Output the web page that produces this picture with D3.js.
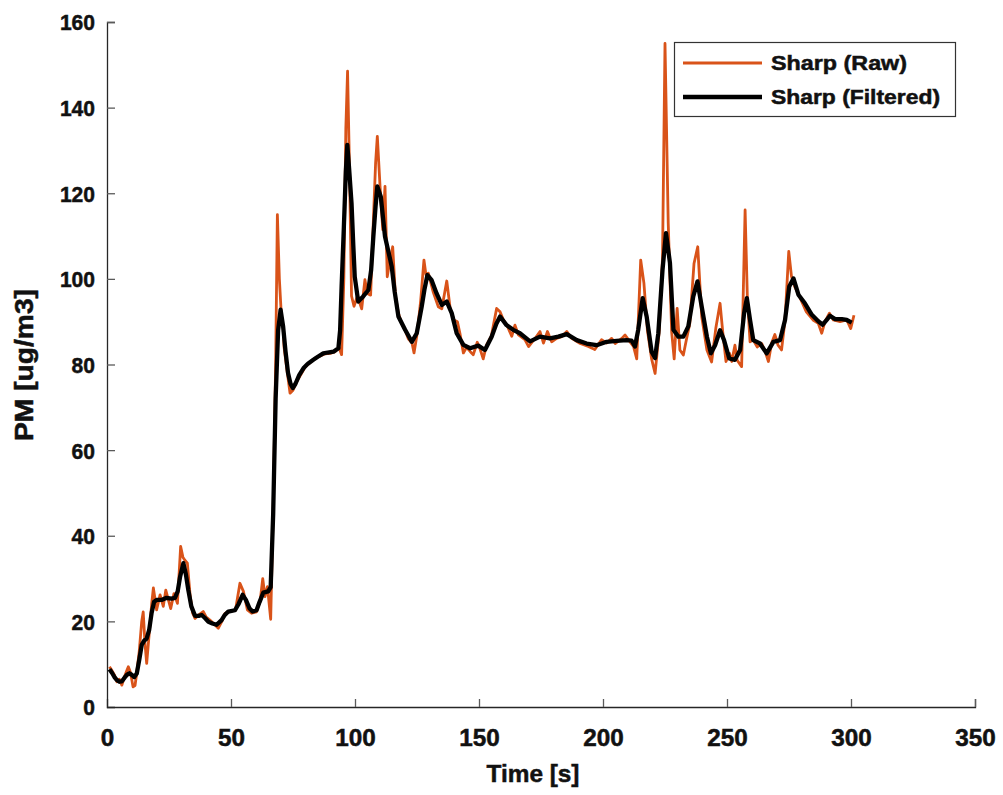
<!DOCTYPE html>
<html>
<head>
<meta charset="utf-8">
<script src="https://cdn.jsdelivr.net/npm/d3@7"></script>
<style>
  html, body { margin: 0; padding: 0; background: #fff; }
  svg { display: block; }
  text { font-family: "Liberation Sans", Arial, sans-serif; font-weight: bold; fill: #111; stroke: #111; stroke-width: 0.5px; }
</style>
</head>
<body>
<svg id="chart" width="1003" height="795"></svg>
<script>
// ---- data ----
const rawTime = [1,2,3,4,5,6,7,8,8.6,9.5,10.5,11.3,12,13,14,14.6,15.3,16,17,18,18.7,20,21.4,22.7,23.7,25.7,27,28.4,29.7,30.6,31.4,32.4,33.5,34.5,35.5,37,38.8,40,41.5,43,44.9,46.3,47.6,50,51.8,53.6,55,56.6,58.3,60.3,61.8,62.8,63.7,64.7,66,67,68,68.7,69.5,70.4,71,71.4,72.5,73.8,75,76.5,78,80,82,84,86,88,90,92,93.5,94.6,95.5,96.3,97,97.8,98.6,99.6,101,102.7,104,105,106.3,107.5,108.3,109,110.1,111.2,112.1,113,114,115.2,116.3,117.5,118.8,120.2,121.5,123,123.8,125,126.5,127.8,128.6,129.6,131.5,133.6,135,137,138.4,139.9,141.3,142.3,143.7,145,146.5,147.7,149.3,150.5,151.7,153,155,157.1,158.4,159.7,161.8,163.2,164.5,165.8,168.5,170,172.7,174.6,176,177.6,179.3,181.3,183.3,185.4,187.4,190.8,194.1,196.7,199.4,201.5,203.5,204.9,207.6,208.9,210.9,212.3,213.6,215.2,216.5,217.9,219.6,221,222.7,224,225,226.3,227.7,228.7,229.9,231,232.4,233.7,235,236.7,238.2,239.8,241.9,243.8,245.5,247.2,248.3,249.6,251,251.9,253.2,254.1,255.9,257.3,258.2,259.3,260.6,262.2,264,265.4,266.7,268,269.3,270.6,272,273.4,274.9,276,277.3,279.3,282,284.7,286.8,288.2,289.5,291.3,292.9,295.6,298.3,299.9,301.2];
const rawValue = [9.4,8.5,7.5,5.9,6.5,5.1,7,8.5,9.4,8,4.7,5,8,13,20,22.2,15,10.2,17,24,27.8,22.7,26.2,23.5,27.3,23,26.5,24.2,37.5,35,34.3,33.6,26.2,22,20.7,21.5,22.3,21,20.3,19.5,18.4,20,21.9,22.4,22.6,28.9,27,22.7,21.9,22.2,25,30,25.8,28.1,20.5,46,80,115,100,90.5,89,84,79,73.3,74,76,77.5,79.5,80.5,81.5,82,82.5,82.6,83,84,82.3,100,135,148.5,125,96,93.6,96,93,99.8,96.6,96.2,115,127,133.3,121.6,111.5,121.6,100.5,104,107.5,96,92,89.6,88,86,85,82.7,87,95,104.4,101,101.3,97,93.5,93,99.5,93,90.4,90,87.3,82.7,84,83,82.3,85.2,83.5,81.3,84.5,86.7,93.1,92.4,90.6,88.5,86.6,89.2,87,85.8,84.2,86.2,87.7,85,87.7,85.3,86.1,86.5,87.7,86.1,84.9,84.2,83.5,85.8,85,86.1,84.9,86.1,86.9,85.3,84.2,81.3,104.4,99,88,81.3,77.9,88,105,155,113,87.5,81.3,93.1,83.4,82.2,86,89.6,103.6,107.5,91.2,83.4,80.6,88.5,94.3,87.5,80.7,82.6,80.7,84.5,81,79.5,116.1,95.8,85.3,85.7,84.1,84.9,83,80.7,85,87,84.5,83.4,90.4,106.4,100.6,98.2,95.8,92.3,90.4,89.6,87.3,90,92,90.4,90,90.4,88.4,91.5];

const filtTime = [1,2,3,4,5,6,7,8,9,10,11,12,13,14,15,16,17,18,19,20,22,24,26,27.4,28.5,29.5,30.8,31.8,32.8,34,35.5,37,38.2,39.5,40.9,42.5,44.2,46.2,47.5,48.9,51.6,53,54.7,56,57.5,58.7,60.3,61.5,63,65,66,67,68,69,70,71,72,73,74,74.9,76,77.5,79.2,81,83.2,85,87.2,89,91.3,93.3,94,94.6,95.5,96.3,96.9,97.6,98.6,99.3,99.9,101.3,103.3,105.4,106.5,107.4,108.3,109,110.4,112.1,114.8,116,117.5,120.2,122.9,124.9,126.9,128,129.2,130.9,132.9,135,137,139,141,143.7,146.4,149.7,152.4,155.1,157,158.5,161.1,163.8,166.5,170.6,174.6,178.6,182,185.4,189.4,193.4,197.4,201.5,205.5,209.5,211.5,212.9,214.2,216,217.6,219.6,221,222.3,224,225.4,227,228.4,230.4,232.4,234.4,236.4,238.1,239.8,241.9,243.5,245.2,247.2,248.8,250.9,253.2,255.3,256.9,258,259.3,260.6,263.3,266,268.7,271.4,273.4,275.1,276.8,278.8,281.4,284.2,286.8,288.6,290.2,291.5,293.6,296.3,298.3,300.3];
const filtValue = [8.8,8,7,6.3,5.9,6,6.8,7.5,7.9,7.5,7,7.8,11,14.5,15.5,16,18,22,24.6,25,25,25.5,25.3,25.5,27,30.5,33.6,31,27.3,23.5,21.3,21.3,21.5,20.8,19.9,19.5,19.2,20.3,21.5,22.3,22.6,24,26.2,25,23,22.3,22.6,24.5,26.7,27,28,45,72,88,92.8,89,83,78,75.5,74.5,75.5,77.5,79.1,80.2,81.1,81.8,82.6,82.8,83,83.8,88,98.2,112,125,131.3,126,117.7,108,100.5,94.7,95.9,97.4,102,109.9,117,121.6,119.2,109.9,102.9,97,91.2,88.1,85.3,87.3,93.5,97.5,100.9,99.7,96.6,93.9,94.7,92,87.3,84.6,83.8,84.4,83.4,86.5,89.5,91.2,89.2,88.1,87.3,85.4,86.5,86.1,86.5,87.1,85.7,84.9,84.5,85.3,85.5,85.7,85.6,84.2,88.1,95.5,91.2,83,81.5,87.3,102.1,110.7,103.7,88.1,86.5,86.5,88.9,95.9,99.4,93.5,86.5,82.6,84.5,88,85.7,81.4,81.1,83.4,92,95.5,90.4,85.7,84.9,82.6,85.3,85.7,90.4,98.2,100.1,96.3,94.3,91.6,90.1,89.3,90.4,91.4,90.6,90.6,90.4,89.8];

const xTicks = [0,50,100,150,200,250,300,350];
const yTicks = [0,20,40,60,80,100,120,140,160];
const seriesNames = ["Sharp (Raw)", "Sharp (Filtered)"];
const seriesColors = ["#D95319", "#000000"];

// ---- layout ----
const svg = d3.select("#chart");
const x = d3.scaleLinear().domain([0, 350]).range([107, 975]);
const y = d3.scaleLinear().domain([0, 160]).range([707, 22]);

const xAxis = d3.axisBottom(x).tickValues(xTicks).tickSize(-8).tickPadding(0).tickFormat(d3.format("d"));
const yAxis = d3.axisLeft(y).tickValues(yTicks).tickSize(-8).tickPadding(0).tickFormat(d3.format("d"));

const gx = svg.append("g").attr("transform", "translate(0,707)").call(xAxis);
const gy = svg.append("g").attr("transform", "translate(107,0)").call(yAxis);

[gx, gy].forEach(g => {
  g.select(".domain").attr("stroke", "#262626").attr("stroke-width", 1.3);
  g.selectAll(".tick line").attr("stroke", "#5a5a5a").attr("stroke-width", 1.3);
  g.selectAll(".tick text").attr("fill", "#111").attr("stroke", "#111").attr("stroke-width", 0.5)
    .style("font-family", "'Liberation Sans', Arial, sans-serif").style("font-weight", "bold");
});
gx.selectAll(".tick text").attr("font-size", 24).attr("y", 39).attr("dy", 0)
  .attr("textLength", d => String(d).length * 13.5).attr("lengthAdjust", "spacingAndGlyphs");
gy.selectAll(".tick text").attr("font-size", 22).attr("x", -12).attr("dy", "0.36em")
  .attr("textLength", d => String(d).length * 11.7).attr("lengthAdjust", "spacingAndGlyphs");
gx.selectAll(".tick").filter(d => d === 0).select("line").remove();
gy.selectAll(".tick").filter(d => d === 0).select("line").remove();

// axis titles
svg.append("text").attr("x", 533).attr("y", 782).attr("text-anchor", "middle")
  .attr("font-size", 24).attr("textLength", 93).attr("lengthAdjust", "spacingAndGlyphs").text("Time [s]");
svg.append("text").attr("transform", "translate(33,365) rotate(-90)").attr("text-anchor", "middle")
  .attr("font-size", 25).attr("textLength", 152).attr("lengthAdjust", "spacingAndGlyphs").text("PM [ug/m3]");

// lines
const line = d3.line().x(d => x(d[0])).y(d => y(d[1]));
const rawData = rawTime.map((t, i) => [t, rawValue[i]]);
const filtData = filtTime.map((t, i) => [t, filtValue[i]]);

svg.append("path").datum(rawData).attr("d", line).attr("fill", "none")
  .attr("stroke", seriesColors[0]).attr("stroke-width", 2.8).attr("stroke-linejoin", "round");
svg.append("path").datum(filtData).attr("d", line).attr("fill", "none")
  .attr("stroke", seriesColors[1]).attr("stroke-width", 4.3).attr("stroke-linejoin", "round");

// legend
const lg = svg.append("g");
lg.append("rect").attr("x", 674.5).attr("y", 42.5).attr("width", 281).attr("height", 74)
  .attr("fill", "#fff").attr("stroke", "#333").attr("stroke-width", 1.2);
const legendY = [63, 97];
const legendLen = [136, 169];
seriesNames.forEach((name, i) => {
  lg.append("line").attr("x1", 683).attr("x2", 762).attr("y1", legendY[i]).attr("y2", legendY[i])
    .attr("stroke", seriesColors[i]).attr("stroke-width", i === 0 ? 2.8 : 4.3);
  lg.append("text").attr("x", 771).attr("y", legendY[i]).attr("dy", "0.36em")
    .attr("font-size", 20).attr("textLength", legendLen[i]).attr("lengthAdjust", "spacingAndGlyphs")
    .text(name);
});
</script>
</body>
</html>
